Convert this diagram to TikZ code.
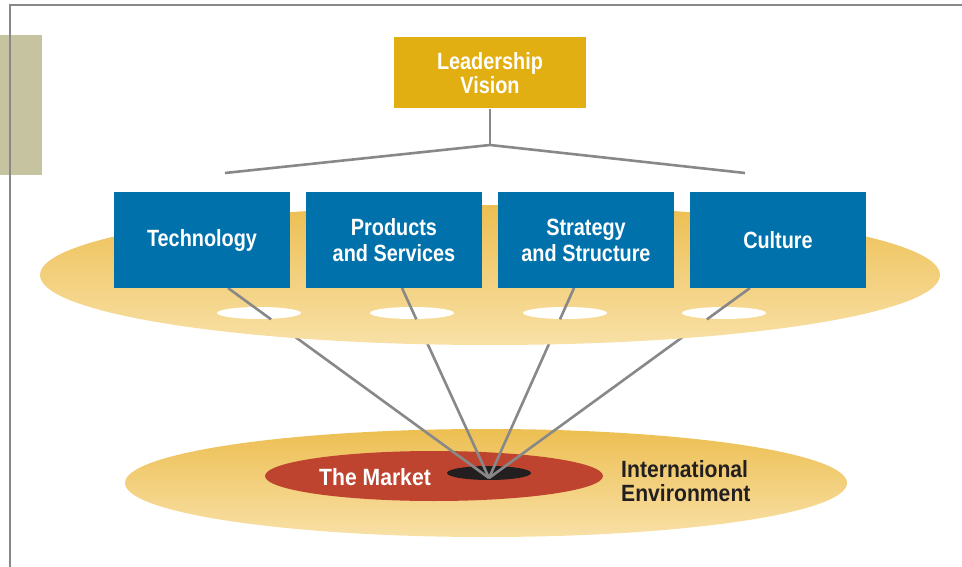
\documentclass[tikz,border=0pt]{standalone}
\usepackage{fontspec}
\setmainfont{Liberation Sans}
\newfontfamily\condbold[FakeStretch=0.845]{Liberation Sans Bold}
\newfontfamily\condboldw[FakeStretch=0.9]{Liberation Sans Bold}
\usetikzlibrary{calc}
\definecolor{goldbox}{HTML}{E2AF12}
\definecolor{bluebox}{HTML}{0071AB}
\definecolor{linegray}{HTML}{888888}
\definecolor{khaki}{HTML}{C6C3A0}
\definecolor{marketred}{HTML}{BF4430}
\definecolor{holeblack}{HTML}{231F20}
\definecolor{ringtop}{HTML}{EDBF52}
\definecolor{ringbot}{HTML}{F8E0A6}
\tikzset{
  boxlabel/.style={text=white, font=\condbold\fontsize{23.5}{26}\selectfont, align=center, inner sep=0pt},
  bluebx/.style={boxlabel, fill=bluebox, minimum width=176pt, minimum height=96pt},
  goldbx/.style={boxlabel, fill=goldbox, minimum width=192pt, minimum height=71pt, font=\condbold\fontsize{23.5}{24}\selectfont},
  lowlabel/.style={font=\condboldw\fontsize{23.5}{24}\selectfont, inner sep=0pt},
  conn/.style={draw=linegray, line width=2.6pt},
  frameline/.style={draw=linegray, line width=2.4pt},
}
\begin{document}
\begin{tikzpicture}[x=1pt,y=-1pt]
\useasboundingbox (0,0) rectangle (962,567);
% frame and side tab
\fill[khaki] (0,35) rectangle (42,175);
\draw[frameline] (10,567) -- (10,5) -- (962,5);

% nodes
\node[goldbx] (lv) at (490,73) {Leadership\\Vision};
\coordinate (fork) at (490,145);
\coordinate (forkl) at (225,173);
\coordinate (forkr) at (745,173);
\coordinate (m) at (489,478);

% lower ellipse
\shade[top color=ringtop, bottom color=ringbot] (486,483) ellipse [x radius=361pt, y radius=54pt];
\fill[marketred] (434,476) ellipse [x radius=169pt, y radius=25pt];
\fill[holeblack] (489,473) ellipse [x radius=42pt, y radius=7pt];
\node[lowlabel, text=white] (mk) at (375,477) {The Market};
\node[lowlabel, text=holeblack, align=left, anchor=west] (ie) at (621,481) {International\\Environment};

% coordinates for connector starts (box bottoms)
\coordinate (s1) at (228,288);
\coordinate (s2) at (402,288);
\coordinate (s3) at (574,288);
\coordinate (s4) at (750,288);

% full connectors (lower parts remain visible below the upper ellipse)
\foreach \s in {s1,s2,s3,s4} \draw[conn] (\s) -- (m);

% upper ellipse
\shade[top color=ringtop, bottom color=ringbot] (490,275) ellipse [x radius=450pt, y radius=70pt];
% holes
\foreach \hx in {259,412,565,724} \fill[white] (\hx,313) ellipse [x radius=42pt, y radius=6pt];

% upper parts of connectors, into the holes
\foreach \s in {s1,s2,s3,s4} \draw[conn] (\s) -- ($(\s)!0.165!(m)$);

% blue boxes
\node[bluebx] (tech) at (202,240) {Technology};
\node[bluebx] (prod) at (394,240) {Products\\and Services};
\node[bluebx] (strat) at (586,240) {Strategy\\and Structure};
\node[bluebx] (cult) at (778,240) {Culture};

% top connectors
\draw[conn] (lv.south) -- (fork);
\draw[conn] (forkl) -- (fork) -- (forkr);
\end{tikzpicture}
\end{document}
